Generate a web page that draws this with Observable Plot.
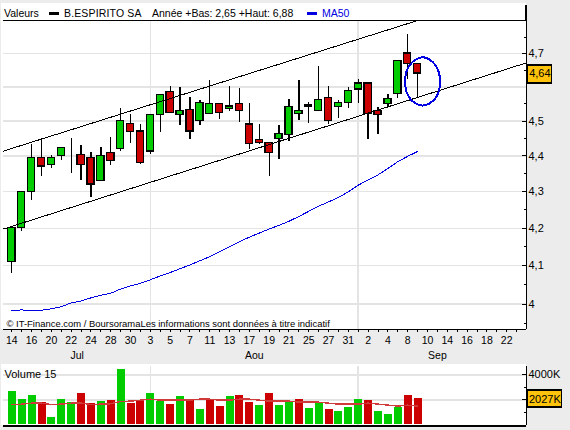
<!DOCTYPE html>
<html>
<head>
<meta charset="utf-8">
<script src="https://cdn.jsdelivr.net/npm/d3@7"></script>
<script src="https://cdn.jsdelivr.net/npm/@observablehq/plot@0.6"></script>
<style>
html,body{margin:0;padding:0;background:#ececec;overflow:hidden;width:570px;height:430px}
#stage{position:relative;width:570px;height:430px;font-family:"Liberation Sans",sans-serif;font-size:10.5px;color:#000}
.panel{position:absolute;background:#fff;left:1px;width:525px}
#head{position:absolute;left:0;top:0;width:570px;height:20px}
#head span{position:absolute;top:7px;line-height:13px;white-space:nowrap}
#head i{position:absolute;top:12px;height:3px;width:10px;display:block}
#axtop{position:absolute;left:525px;top:5px;width:2px;height:15px;background:#000}
#price{position:absolute;left:0;top:20px}
#vol{position:absolute;left:0;top:364px}
</style>
</head>
<body>
<div id="stage">
  <div class="panel" style="top:3px;height:326px"></div>
  <div class="panel" style="top:364px;height:61px"></div>
  <div id="head">
    <span style="left:4px">Valeurs</span>
    <i style="left:49px;background:#000"></i>
    <span style="left:64px;letter-spacing:.15px">B.ESPIRITO SA</span>
    <span style="left:152px">Année +Bas: 2,65 +Haut: 6,88</span>
    <i style="left:307px;background:#0000e0"></i>
    <span style="left:322px;color:#0000e0">MA50</span>
    <div id="axtop"></div>
  </div>
  <div id="price"></div>
  <div id="vol"></div>
</div>
<script>
const open  = [4.11,4.20,4.30,4.395,4.375,4.40,4.43,4.403,4.395,4.33,4.409,4.42,4.492,4.47,4.413,4.518,4.586,4.518,4.533,4.50,4.521,4.55,4.536,4.55,4.49,4.446,4.436,4.449,4.46,4.521,4.541,4.529,4.568,4.54,4.553,4.592,4.61,4.529,4.55,4.58,4.70,4.669];
const close = [4.20,4.30,4.395,4.37,4.395,4.423,4.43,4.375,4.32,4.40,4.386,4.50,4.468,4.38,4.518,4.577,4.524,4.53,4.47,4.553,4.55,4.524,4.542,4.53,4.434,4.436,4.408,4.462,4.54,4.53,4.545,4.561,4.50,4.553,4.589,4.61,4.521,4.518,4.565,4.678,4.669,4.64];
const high  = [4.20,4.30,4.433,4.449,4.40,4.423,4.449,4.43,4.409,4.423,4.452,4.536,4.518,4.49,4.518,4.577,4.60,4.597,4.568,4.559,4.619,4.55,4.60,4.595,4.55,4.49,4.436,4.487,4.563,4.62,4.555,4.66,4.60,4.56,4.597,4.622,4.61,4.54,4.578,4.678,4.757,4.669];
const low   = [4.08,4.19,4.276,4.341,4.366,4.388,4.35,4.331,4.285,4.33,4.373,4.414,4.436,4.376,4.404,4.466,4.524,4.488,4.447,4.488,4.521,4.505,4.528,4.497,4.418,4.432,4.341,4.39,4.44,4.502,4.494,4.529,4.489,4.508,4.538,4.55,4.447,4.46,4.54,4.567,4.621,4.57];
const ma50  = [3.983,3.985,3.983,3.984,3.988,3.993,4.003,4.008,4.016,4.023,4.028,4.039,4.047,4.054,4.063,4.073,4.082,4.092,4.102,4.113,4.124,4.137,4.15,4.164,4.176,4.187,4.198,4.208,4.219,4.232,4.246,4.26,4.272,4.284,4.30,4.318,4.333,4.347,4.365,4.384,4.399,4.413];
const volume   = [2640,2000,2320,1760,560,2000,1760,2480,1680,1840,1920,4400,1680,1973,2480,1840,1600,2240,2000,1200,2053,1440,2240,2320,1760,1520,2480,1520,1760,2000,1280,1680,1200,1040,1360,2000,1920,1040,800,1360,2320,2080];
const volumeUp = [1,1,1,0,1,1,1,0,0,1,0,1,0,0,1,1,0,1,0,1,0,0,1,0,0,1,0,1,1,0,1,1,0,1,1,1,0,1,1,1,0,0];
const volumeMA = [1600,1653,1733,1733,1627,1653,1733,1733,1627,1653,1680,1867,1893,1973,2053,1973,1973,1973,1973,2053,2053,1973,1973,2053,2053,1973,1893,1893,1893,1813,1813,1813,1733,1653,1653,1653,1733,1653,1573,1493,1573,1493];
const xLabels = ["14","16","20","22","24","28","30","3","5","7","11","13","17","19","21","25","27","31","2","4","8","10","14","16","18","22"];
const months = ["Jul","Aou","Sep"];
const monthAt = [6.6,24.5,43];
const monthStarts = [14,35];
const priceGrid = [4,4.1,4.2,4.3,4.4,4.5,4.6,4.7];
const priceLabelled = [4,4.1,4.2,4.3,4.4,4.5,4.7];
const priceMinor = [3.95,4.05,4.15,4.25,4.35,4.45,4.55,4.65,4.75,4.8];
const volMajor = [2000,4000];
const volMinor = [1000,3000];
const upperChannel = [{i:-0.84,p:4.414},{i:41,p:4.801}];
const lowerChannel = [{i:-0.84,p:4.198},{i:52,p:4.672}];
const ring = [[41.5,4.689],[42.75,4.667],[43.27,4.616],[42.75,4.565],[41.5,4.545],[40.25,4.565],[39.73,4.616],[40.25,4.667]];
const lastPrice = 4.64, lastVolume = 2027;
const copyright = "© IT-Finance.com / BoursoramaLes informations sont données à titre indicatif";

const XD = [-0.84,52];
const GRID = "#e4e4e4", RED = "#cc0000", GREEN = "#00cc00", BLUE = "#0000e0", GOLD = "#ffc30b";
const baseStyle = {background:"transparent",fontFamily:"'Liberation Sans',sans-serif",fontSize:"10.5px",color:"#000",shapeRendering:"crispEdges",overflow:"visible"};
const candles = open.map((o,i)=>({i,o,c:close[i],h:high[i],l:low[i]}));
const allI = d3.range(0,52);
const labelOf = i => i%2===0 ? (xLabels[i/2] ?? "") : "";
const comma = d => String(d).replace(".",",");

const price = Plot.plot({
  width:570,height:343,marginLeft:3,marginRight:44,marginTop:0,marginBottom:34,
  style:baseStyle,
  x:{domain:XD,axis:null},
  y:{type:"log",domain:[3.935,4.801],axis:null},
  marks:[
    Plot.ruleY(priceGrid,{stroke:GRID,strokeWidth:1.5}),
    Plot.ruleX(monthStarts,{stroke:GRID,strokeWidth:1.5}),
    Plot.text([copyright],{frameAnchor:"bottom-left",dx:3,dy:-3,lineAnchor:"bottom",textAnchor:"start",fill:"#000",fontSize:9.45}),
    Plot.line(ma50,{x:(d,i)=>i,y:d=>d,stroke:BLUE,strokeWidth:1}),
    Plot.ruleX(candles,{x:"i",y1:"l",y2:"h",stroke:"#000",strokeWidth:1.3}),
    Plot.rect(candles,{x1:d=>d.i-0.36,x2:d=>d.i+0.36,y1:"o",y2:"c",fill:d=>d.c>=d.o?GREEN:RED,stroke:"#000",strokeWidth:1.3}),
    Plot.line(upperChannel,{x:"i",y:"p",stroke:"#000",strokeWidth:1}),
    Plot.line(lowerChannel,{x:"i",y:"p",stroke:"#000",strokeWidth:1}),
    Plot.line(ring,{x:"0",y:"1",curve:"catmull-rom-closed",stroke:BLUE,strokeWidth:2}),
    Plot.ruleY([4.801],{stroke:"#000",strokeWidth:1.5}),
    Plot.ruleY([3.935],{stroke:"#000",strokeWidth:1.5}),
    Plot.ruleX([52],{stroke:"#000",strokeWidth:1.5}),
    Plot.axisX({ticks:allI,anchor:"bottom",tickSize:3,tickPadding:4,tickFormat:labelOf,label:null,fontSize:10.5}),
    Plot.text(months,{x:(d,i)=>monthAt[i],frameAnchor:"bottom",lineAnchor:"middle",dy:26,text:d=>d,fontSize:10.5,letterSpacing:"0.5px"}),
    Plot.axisY({ticks:priceLabelled,anchor:"right",tickSize:-5,tickPadding:7,tickFormat:comma,label:null,fontSize:11}),
    Plot.axisY({ticks:priceMinor,anchor:"right",tickSize:-3,tickFormat:()=>"",label:null}),
    Plot.rect([lastPrice],{x1:52.1,x2:54.6,y1:4.61,y2:4.664,fill:GOLD,stroke:"#000",strokeWidth:1.3}),
    Plot.text([lastPrice],{x:53.35,y:d=>d,text:comma,fontSize:11})
  ]
});
document.getElementById("price").append(price);

const vol = Plot.plot({
  width:570,height:66,marginLeft:3,marginRight:44,marginTop:0,marginBottom:5,
  style:baseStyle,
  x:{domain:XD,axis:null},
  y:{domain:[-56,4824],axis:null},
  marks:[
    Plot.ruleY(volMajor,{stroke:GRID,strokeWidth:1.5}),
    Plot.ruleX(monthStarts,{y1:-56,y2:4664,stroke:GRID,strokeWidth:1.5}),
    Plot.ruleX(volume,{x:(d,i)=>i,y1:0,y2:d=>d,stroke:(d,i)=>volumeUp[i]?GREEN:RED,strokeWidth:8}),
    Plot.line(volumeMA,{x:(d,i)=>i,y:d=>d,stroke:"#d03a3a",strokeWidth:1.4}),
    Plot.ruleY([-56],{stroke:"#000",strokeWidth:2}),
    Plot.ruleX([52],{y1:-56,y2:4664,stroke:"#000",strokeWidth:1.5}),
    Plot.axisY({ticks:volMajor.slice(1),anchor:"right",tickSize:-5,tickPadding:7,tickFormat:d=>d+"K",label:null,fontSize:11}),
    Plot.axisY({ticks:[2000],anchor:"right",tickSize:-5,tickFormat:()=>"",label:null}),
    Plot.axisY({ticks:volMinor,anchor:"right",tickSize:-3,tickFormat:()=>"",label:null}),
    Plot.rect([lastVolume],{x1:52.1,x2:55.6,y1:1384,y2:2744,fill:GOLD,stroke:"#000",strokeWidth:1.3}),
    Plot.text([lastVolume],{x:53.85,y:d=>d,text:d=>d+"K",fontSize:11}),
    Plot.text(["Volume 15"],{frameAnchor:"top-left",dx:1,dy:6,lineAnchor:"top",textAnchor:"start",fontSize:11,letterSpacing:"0.3px"})
  ]
});
document.getElementById("vol").append(vol);
</script>
</body>
</html>
